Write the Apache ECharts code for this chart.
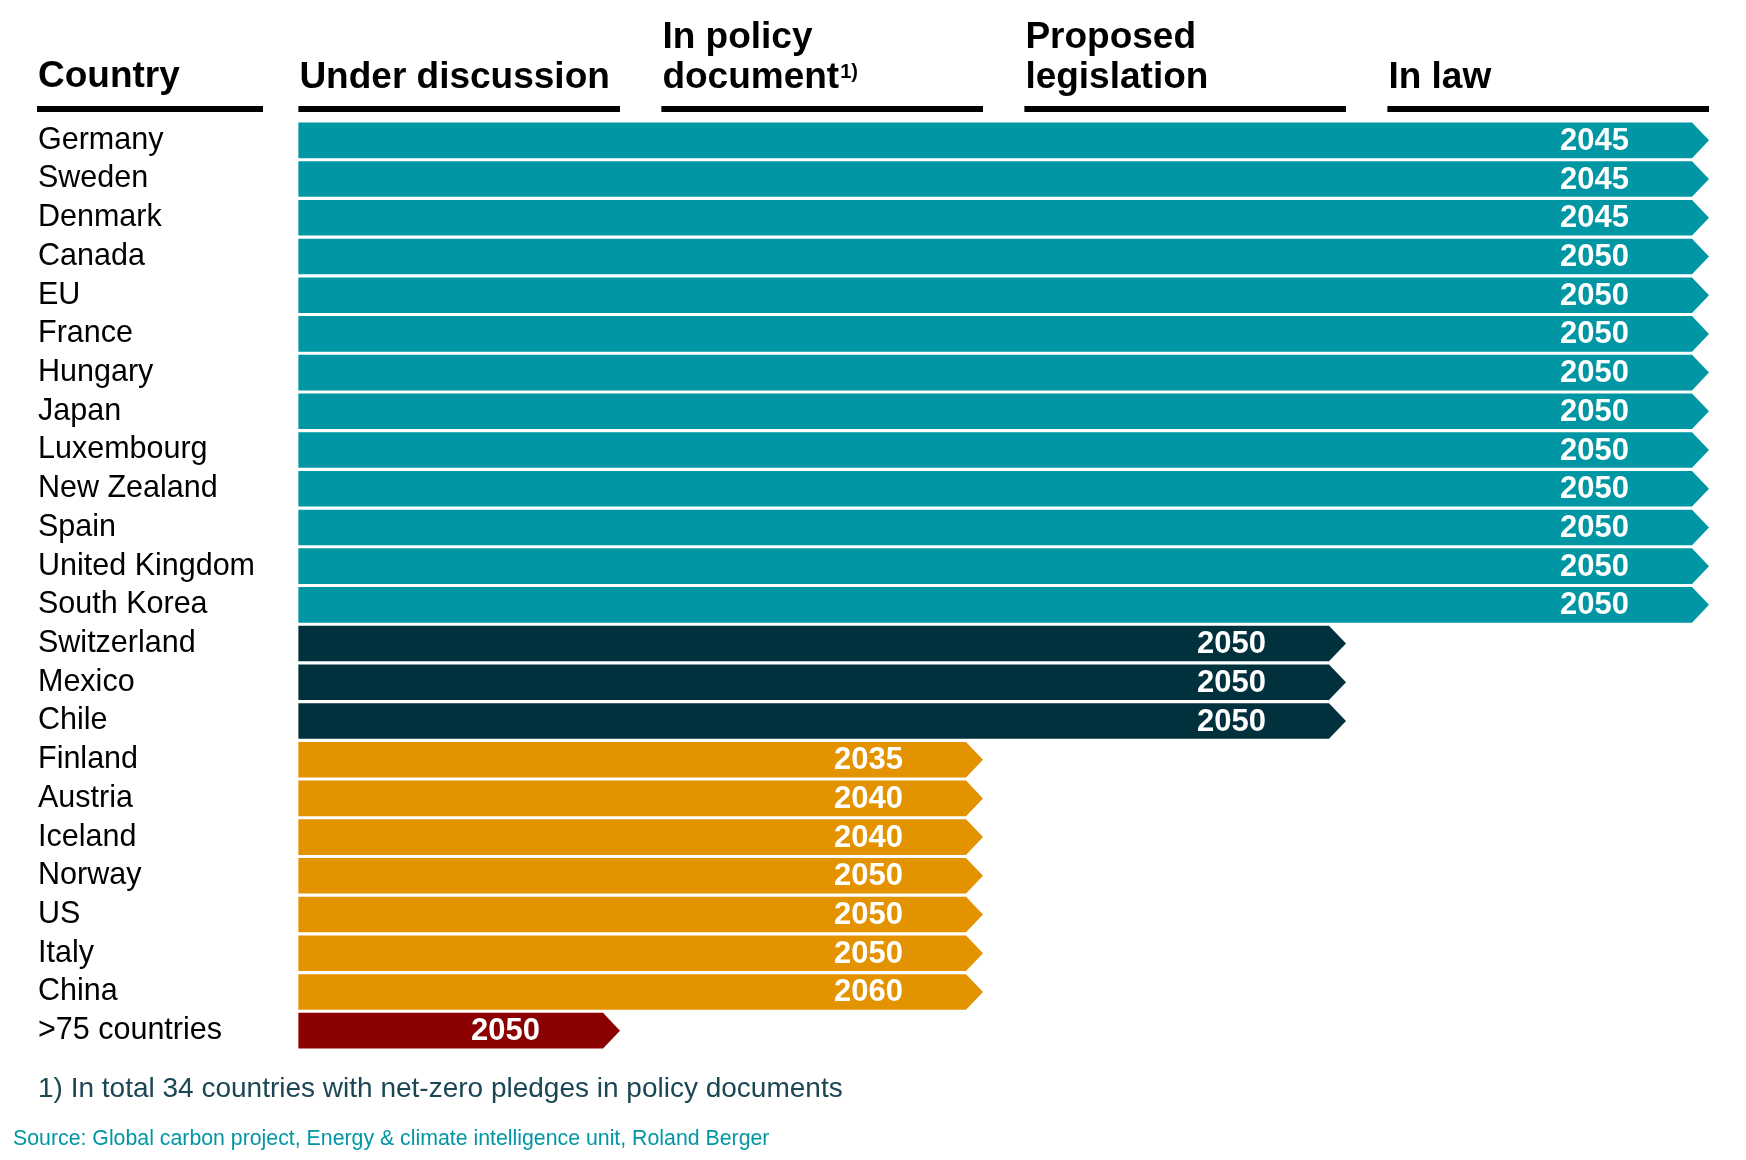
<!DOCTYPE html>
<html>
<head>
<meta charset="utf-8">
<script src="https://cdn.jsdelivr.net/npm/echarts@6/dist/echarts.min.js"></script>
<style>
html, body { margin: 0; padding: 0; background: #fff; }
#main { width: 1746px; height: 1160px; }
</style>
</head>
<body>
<div id="main"></div>
<script>
// net-zero pledges by country, stage reached (1 = under discussion ... 4 = in law)
var countries = ['Germany', 'Sweden', 'Denmark', 'Canada', 'EU', 'France', 'Hungary', 'Japan', 'Luxembourg',
    'New Zealand', 'Spain', 'United Kingdom', 'South Korea', 'Switzerland', 'Mexico', 'Chile', 'Finland',
    'Austria', 'Iceland', 'Norway', 'US', 'Italy', 'China', '>75 countries'];
var years = [2045, 2045, 2045, 2050, 2050, 2050, 2050, 2050, 2050, 2050, 2050, 2050, 2050,
    2050, 2050, 2050, 2035, 2040, 2040, 2050, 2050, 2050, 2060, 2050];
var stages = [4, 4, 4, 4, 4, 4, 4, 4, 4, 4, 4, 4, 4, 3, 3, 3, 2, 2, 2, 2, 2, 2, 2, 1];
var stageNames = ['Under discussion', 'In policy\n{b|document}{s|1)}', 'Proposed\nlegislation', 'In law'];
var stageColors = ['#8B0000', '#E39200', '#00313D', '#0096A3'];
var footnote = '1) In total 34 countries with net-zero pledges in policy documents';
var source = 'Source: Global carbon project, Energy & climate intelligence unit, Roland Berger';

var FONT = '"Liberation Sans", Arial, sans-serif';
var GAP = 0.114; // empty part at the start of every stage column
var TIP = 17;

var chart = echarts.init(document.getElementById('main'));

function renderArrow(params, api) {
    var stage = api.value(0), row = api.value(1);
    var a = api.coord([GAP, row]),
        b = api.coord([stage, row]),
        h = api.size([0, 1])[1] * 0.92,
        y0 = a[1] - h / 2, y1 = a[1] + h / 2;
    return {
        type: 'group',
        children: [{
            type: 'polygon',
            shape: { points: [[a[0], y0], [b[0] - TIP, y0], [b[0], a[1]], [b[0] - TIP, y1], [a[0], y1]] },
            style: { fill: stageColors[stage - 1] }
        }, {
            type: 'text',
            style: {
                x: b[0] - 80, y: a[1] + 1, text: String(api.value(2)),
                align: 'right', verticalAlign: 'middle', fill: '#fff',
                font: 'bold 31px ' + FONT
            }
        }]
    };
}

chart.setOption({
    animation: false,
    grid: { left: 257, right: 37, top: 121, bottom: 110 },
    xAxis: { type: 'value', min: 0, max: 4, show: false },
    yAxis: {
        type: 'category', inverse: true, data: countries,
        axisLine: { show: false }, axisTick: { show: false },
        axisLabel: {
            interval: 0, align: 'left', margin: 219, color: '#000',
            fontSize: 30.5, fontFamily: FONT, padding: [0, 0, 8, 0]
        }
    },
    series: [{
        type: 'custom',
        renderItem: renderArrow,
        encode: { x: 0, y: 1 },
        data: countries.map(function(c, i) { return [stages[i], i, years[i]]; })
    }]
});

// column headers and their underlines, placed from the x axis
var g = [], headFont = 'bold 37px ' + FONT;
g.push({ type: 'text', left: 38, top: 58, style: { text: 'Country', font: headFont, fill: '#000' } });
g.push({ type: 'rect', shape: { x: 37, y: 106, width: 226, height: 6 }, style: { fill: '#000' } });
for (var k = 1; k <= 4; k++) {
    var x0 = chart.convertToPixel({ xAxisIndex: 0 }, k - 1 + GAP),
        x1 = chart.convertToPixel({ xAxisIndex: 0 }, k);
    var two = stageNames[k - 1].indexOf('\n') > -1;
    g.push({
        type: 'text', left: x0 + 1, top: two ? 18 : 58,
        style: {
            text: stageNames[k - 1], font: headFont, fill: '#000', lineHeight: 40,
            rich: {
                b: { font: headFont, fill: '#000', lineHeight: 40 },
                s: { font: 'bold 20px ' + FONT, fill: '#000', verticalAlign: 'top', lineHeight: 20, padding: [4, 0, 0, 1] }
            }
        }
    });
    g.push({ type: 'rect', shape: { x: x0, y: 106, width: x1 - x0, height: 6 }, style: { fill: '#000' } });
}
g.push({ type: 'text', left: 38, top: 1075, style: { text: footnote, font: '28px ' + FONT, fill: '#1B4654' } });
g.push({ type: 'text', left: 13, top: 1129, style: { text: source, font: '21.3px ' + FONT, fill: '#0096A3' } });
chart.setOption({ graphic: g });
</script>
</body>
</html>
